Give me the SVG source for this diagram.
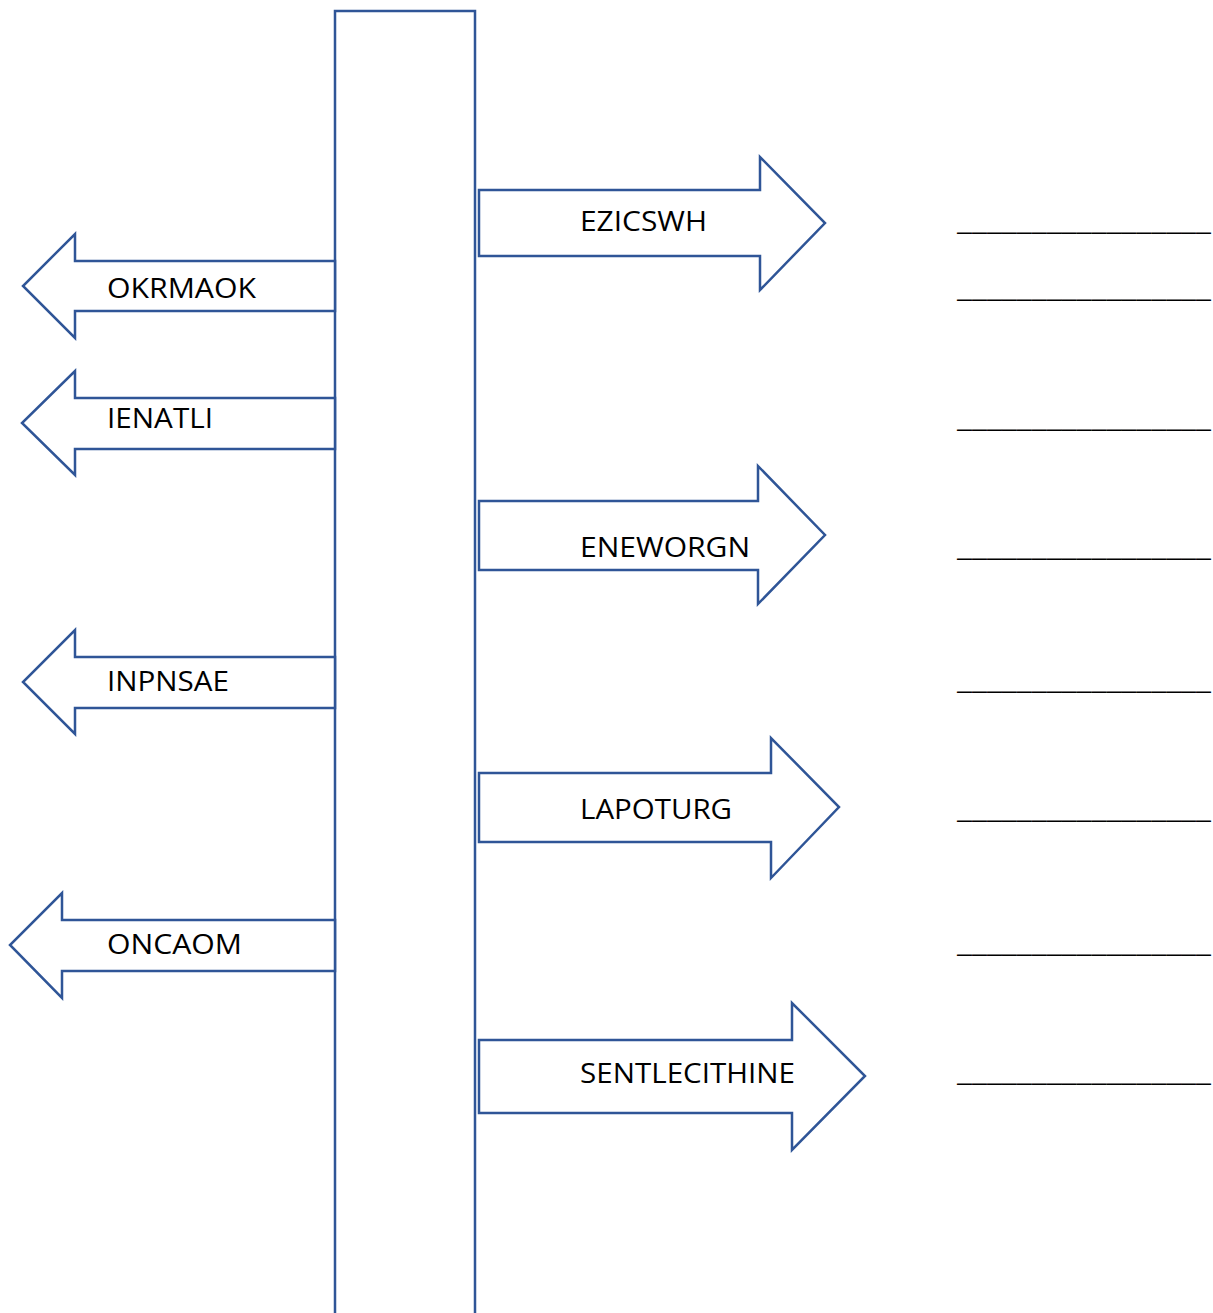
<svg xmlns="http://www.w3.org/2000/svg" width="1213" height="1313" viewBox="0 0 1213 1313">
<style>
.sh{fill:#fff;stroke:#2F5597;stroke-width:2.5;stroke-linejoin:miter}
.t{font-family:"Open Sans","Liberation Sans",sans-serif;font-size:27px;fill:#000}
.u{font-family:"Open Sans","Liberation Sans",sans-serif;font-size:26px;fill:#000}
</style>
<rect width="1213" height="1313" fill="#fff"/>
<g id="bar"><path class="sh" d="M335,1315 V11 H475 V1315"/></g>
<g id="connectors">
<g id="a-ezicswh"><path class="sh" d="M479,190 H760 V157 L825,223 L760,290 V256 H479 Z"/><text class="t" x="580" y="231" textLength="127" lengthAdjust="spacingAndGlyphs">EZICSWH</text></g>
<g id="a-okrmaok"><path class="sh" d="M335,261 H75 V234 L23,286 L75,338 V311 H335 Z"/><text class="t" x="107" y="298" textLength="149" lengthAdjust="spacingAndGlyphs">OKRMAOK</text></g>
<g id="a-ienatli"><path class="sh" d="M335,398 H75 V371 L22,423 L75,475 V449 H335 Z"/><text class="t" x="107" y="428" textLength="106" lengthAdjust="spacingAndGlyphs">IENATLI</text></g>
<g id="a-eneworgn"><path class="sh" d="M479,501 H758 V466 L825,535 L758,604 V570 H479 Z"/><text class="t" x="580" y="557" textLength="170" lengthAdjust="spacingAndGlyphs">ENEWORGN</text></g>
<g id="a-inpnsae"><path class="sh" d="M335,657 H75 V630 L23,682 L75,734 V708 H335 Z"/><text class="t" x="107" y="691" textLength="122" lengthAdjust="spacingAndGlyphs">INPNSAE</text></g>
<g id="a-lapoturg"><path class="sh" d="M479,773 H771 V738 L839,807 L771,878 V842 H479 Z"/><text class="t" x="580" y="819" textLength="152" lengthAdjust="spacingAndGlyphs">LAPOTURG</text></g>
<g id="a-oncaom"><path class="sh" d="M335,920 H62 V893 L10,945 L62,998 V971 H335 Z"/><text class="t" x="107" y="954" textLength="135" lengthAdjust="spacingAndGlyphs">ONCAOM</text></g>
<g id="a-sentlecithine"><path class="sh" d="M479,1040 H792 V1003 L865,1076 L792,1150 V1113 H479 Z"/><text class="t" x="580" y="1083" textLength="215" lengthAdjust="spacingAndGlyphs">SENTLECITHINE</text></g>
</g>
<g id="blanks">
<text class="u" x="957" y="230" textLength="254" lengthAdjust="spacingAndGlyphs">_________________</text>
<text class="u" x="957" y="297" textLength="254" lengthAdjust="spacingAndGlyphs">_________________</text>
<text class="u" x="957" y="427" textLength="254" lengthAdjust="spacingAndGlyphs">_________________</text>
<text class="u" x="957" y="556" textLength="254" lengthAdjust="spacingAndGlyphs">_________________</text>
<text class="u" x="957" y="689" textLength="254" lengthAdjust="spacingAndGlyphs">_________________</text>
<text class="u" x="957" y="818" textLength="254" lengthAdjust="spacingAndGlyphs">_________________</text>
<text class="u" x="957" y="952" textLength="254" lengthAdjust="spacingAndGlyphs">_________________</text>
<text class="u" x="957" y="1081" textLength="254" lengthAdjust="spacingAndGlyphs">_________________</text>
</g>
</svg>
